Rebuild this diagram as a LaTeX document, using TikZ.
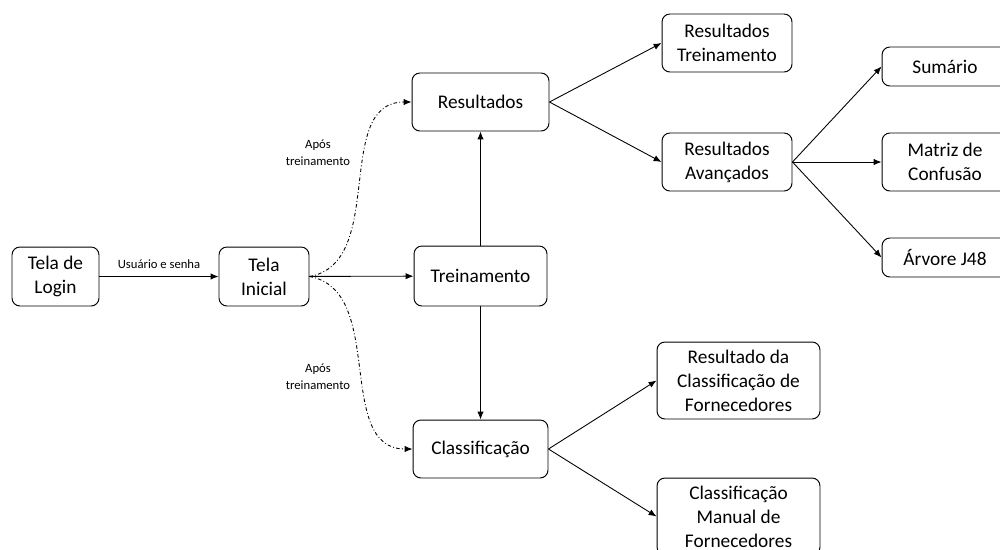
\documentclass[tikz,border=0pt]{standalone}
\usepackage{fontspec}
\setmainfont{Carlito}
\usetikzlibrary{arrows.meta}

\begin{document}
\begin{tikzpicture}[x=0.02cm,y=-0.02cm,
  tela/.style={draw,rounded corners=4.5pt,line width=0.55pt,align=center,inner sep=0pt,
    font=\fontsize{11}{13.6}\selectfont},
  seta/.style={-{Latex[length=4.5pt,width=3.6pt]},line width=0.5pt},
  condicional/.style={seta,dash pattern=on 2pt off 1.3pt on 0.5pt off 1.3pt},
  nota/.style={align=center,font=\fontsize{7.2}{9.6}\selectfont}]
\useasboundingbox (0,0) rectangle (1000,549);

% Telas
\node[tela,minimum width=1.74cm,minimum height=1.18cm] (login) at (55.5,276.5) {Tela de\\Login};
\node[tela,minimum width=1.8cm,minimum height=1.18cm] (inicial) at (264,276.5) {Tela\\Inicial};
\node[tela,minimum width=2.74cm,minimum height=1.16cm] (result) at (480.5,102) {Resultados};
\node[tela,minimum width=2.66cm,minimum height=1.2cm] (treino) at (480.5,276) {Treinamento};
\node[tela,minimum width=2.7cm,minimum height=1.16cm] (classif) at (480.5,449) {Classificação};
\node[tela,minimum width=2.6cm,minimum height=1.16cm] (restreino) at (727,43) {Resultados\\Treinamento};
\node[tela,minimum width=2.6cm,minimum height=1.16cm] (resavanc) at (727,162) {Resultados\\Avançados};
\node[tela,minimum width=2.52cm,minimum height=0.78cm] (sumario) at (945,66.5) {Sumário};
\node[tela,minimum width=2.52cm,minimum height=1.16cm] (matriz) at (945,162) {Matriz de\\Confusão};
\node[tela,minimum width=2.52cm,minimum height=0.78cm] (arvore) at (945,257.5) {Árvore J48};
\node[tela,minimum width=3.26cm,minimum height=1.54cm] (resclass) at (738.5,380.5) {Resultado da\\Classificação de\\Fornecedores};
\node[tela,minimum width=3.26cm,minimum height=1.54cm] (manual) at (738.5,516.5) {Classificação\\Manual de\\Fornecedores};

% Fluxo principal
\draw[seta] (login) -- (inicial) node[midway,above=1pt,nota] {Usuário e senha};
\draw[seta] (inicial) -- (treino);
\draw[seta] (treino) -- (result);
\draw[seta] (treino) -- (classif);

% Caminhos apos treinamento
\draw[condicional] (inicial.east) to[out=10,in=180] (result.west);
\draw[condicional] (inicial.east) to[out=-10,in=180] (classif.west);
\node[nota] (apos1) at (318,153) {Após\\treinamento};
\node[nota] (apos2) at (318,377) {Após\\treinamento};

% Resultados
\draw[seta] (result.east) -- (restreino.west);
\draw[seta] (result.east) -- (resavanc.west);
\draw[seta] (resavanc.east) -- (sumario.west);
\draw[seta] (resavanc.east) -- (matriz.west);
\draw[seta] (resavanc.east) -- (arvore.west);

% Classificacao
\draw[seta] (classif.east) -- (resclass.west);
\draw[seta] (classif.east) -- (manual.west);
\end{tikzpicture}
\end{document}
